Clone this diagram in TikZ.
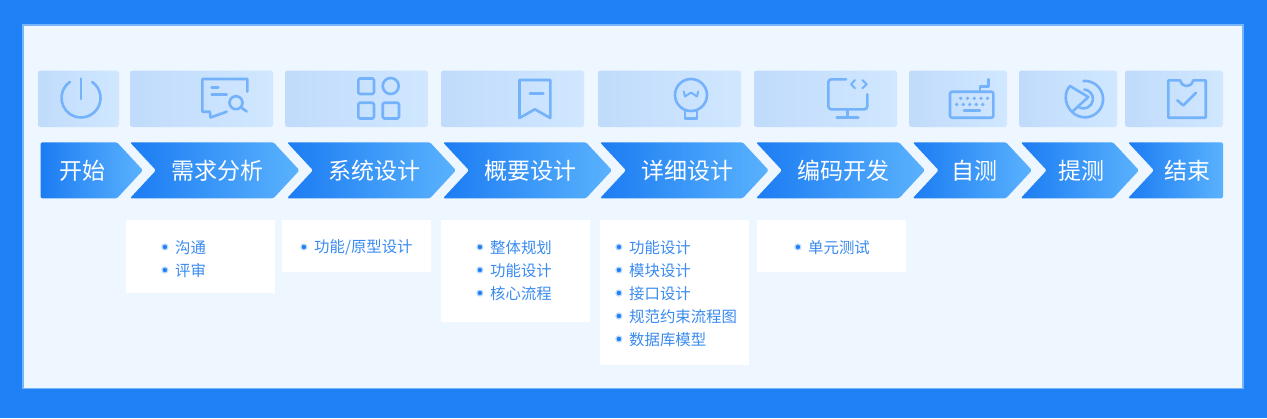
\documentclass[tikz,border=0pt]{standalone}
\usepackage{xcolor}
\usepackage{fontspec}
\setmainfont{Noto Sans CJK SC}
\usetikzlibrary{shapes,positioning}
\definecolor{frameblue}{HTML}{2080F5}
\definecolor{panelblue}{HTML}{EEF6FF}
\definecolor{edgeblue}{HTML}{78B6F9}
\definecolor{tileleft}{HTML}{C0DBFB}
\definecolor{tileright}{HTML}{D0E7FF}
\definecolor{iconblue}{HTML}{74B3FB}
\definecolor{stepleft}{HTML}{1C7CF3}
\definecolor{stepright}{HTML}{5AB2FD}
\definecolor{itemblue}{HTML}{3A8BF0}

\begin{document}
\begin{tikzpicture}[
        x=1pt, y=-1pt,
        tile/.style={rectangle, rounded corners=2.5pt, left color=tileleft, right color=tileright, anchor=north west, inner sep=0pt, outer sep=0pt, minimum height=56.5pt},
        stage/.style={signal, signal to=east, signal from=west, signal pointer angle=94.2, rounded corners=1.5pt, left color=stepleft, right color=stepright, inner sep=0pt, outer sep=0pt, minimum height=56pt},
        stagelabel/.style={text=white, font=\fontsize{23}{25}\selectfont, inner sep=0pt},
        card/.style={rectangle, fill=white, anchor=north west, inner sep=0pt, outer sep=0pt, minimum width=148.5pt},
        bullet/.style={circle, fill=frameblue, draw=frameblue!30, line width=1.2pt, inner sep=0pt, minimum size=6pt, label distance=6.5pt},
        entry/.style={anchor=west, inner sep=0pt, text=itemblue, font=\fontsize{15.4}{17}\selectfont, label={[bullet, yshift=0.5pt]left:{}}},
        icon/.style={draw=iconblue, line width=2.6pt, line cap=round, line join=round},
        dot/.style={fill=iconblue}
    ]
        \useasboundingbox (0,0) rectangle (1267,418);

        % Frame and panel
        \fill[frameblue] (0,0) rectangle (1267,418);
        \node[rectangle, draw=edgeblue, line width=1.5pt, fill=panelblue, anchor=north west, inner sep=0pt, outer sep=0pt, minimum width=1220pt, minimum height=363.5pt] (panel) at (23,24.75) {};

        % Icon tiles
        \node[tile, minimum width=81pt] (tilestart) at (38,70.5) {};
        \node[tile, minimum width=143pt] (tileneed) at (130,70.5) {};
        \node[tile, minimum width=143pt] (tilesystem) at (285,70.5) {};
        \node[tile, minimum width=143pt] (tileoutline) at (441,70.5) {};
        \node[tile, minimum width=143pt] (tiledetail) at (598,70.5) {};
        \node[tile, minimum width=143pt] (tilecode) at (754,70.5) {};
        \node[tile, minimum width=98pt] (tileself) at (909,70.5) {};
        \node[tile, minimum width=98pt] (tilesubmit) at (1019,70.5) {};
        \node[tile, minimum width=98pt] (tileend) at (1125,70.5) {};

        % Power icon
        \draw[icon] (92.2,82) arc[start angle=55, end angle=-235, radius=19.5pt];
        \draw[icon] (81,78.5) -- (81,99);

        % Comment and search icon
        \draw[icon] (247.3,91.7) -- (247.3,79) -- (202.3,79) -- (202.3,111.7) -- (210,111.7) -- (210.5,117.5) -- (226.7,111.7);
        \draw[icon] (211.7,87.7) -- (218.3,87.7);
        \draw[icon] (211.7,94.3) -- (226.7,94.3);
        \draw[icon] (236,102.7) circle[radius=6.5pt];
        \draw[icon] (241,107.3) -- (246.7,111.5);

        % Grid icon
        \draw[icon, rounded corners=1.5pt] (358.3,78.5) rectangle (374,94);
        \draw[icon] (390.7,86) circle[radius=8pt];
        \draw[icon, rounded corners=1.5pt] (358.3,102.7) rectangle (374,118.5);
        \draw[icon, rounded corners=1.5pt] (382.7,102.7) rectangle (399,118.5);

        % Bookmark icon
        \draw[icon] (519.5,80) -- (550.3,80) -- (550.3,118) -- (534.9,109.3) -- (519.5,118) -- cycle;
        \draw[icon] (530,93.3) -- (543.3,93.3);

        % Bulb icon
        \draw[icon] (691,95) circle[radius=16pt];
        \draw[icon] (685,110.5) -- (685,118.5) -- (696.8,118.5) -- (696.8,110.5);
        \draw[icon, line width=2pt] (683.8,91.5) -- (685,96.5) -- (691,92.5) -- (697,96.5) -- (698.2,91.5);

        % Monitor icon
        \draw[icon, rounded corners=3pt] (846,79.3) -- (828.3,79.3) -- (828.3,109.3) -- (867.3,109.3) -- (867.3,94.3);
        \draw[icon] (847.7,109.3) -- (847.7,117.3);
        \draw[icon] (836.7,117.3) -- (858.3,117.3);
        \draw[icon, line width=2pt] (855,80) -- (851,84.3) -- (855,88.3);
        \draw[icon, line width=2pt] (862.3,80) -- (866.7,84.3) -- (862.3,88.3);

        % Keyboard icon
        \draw[icon, rounded corners=2pt] (950,91.7) rectangle (993.3,117.7);
        \draw[icon] (980,91.7) -- (980,86.7) -- (988.3,86.7) -- (988.3,79.3);
        \fill[dot] (960.7,98.3) circle[radius=1.8pt] (967.5,98.3) circle[radius=1.8pt] (974.3,98.3) circle[radius=1.8pt] (981,98.3) circle[radius=1.8pt] (987.5,98.3) circle[radius=1.8pt];
        \fill[dot] (956.7,104.5) circle[radius=1.8pt] (963.2,104.5) circle[radius=1.8pt] (969.7,104.5) circle[radius=1.8pt] (976.2,104.5) circle[radius=1.8pt] (982.7,104.5) circle[radius=1.8pt];
        \draw[icon] (964,110.7) -- (980,110.7);

        % Disk icon
        \draw[icon] (1083.3,81) arc[start angle=95, end angle=-135, radius=18.2pt];
        \draw[icon] (1084.3,89.5) arc[start angle=85, end angle=-115, radius=9.5pt];
        \draw[icon] (1072,112) .. controls (1064,104) and (1064,92) .. (1070,86) -- (1088.3,97) -- (1072,112);

        % Check icon
        \draw[icon] (1180,80.3) .. controls (1182,85) and (1184,86) .. (1186.7,86) .. controls (1189.5,86) and (1191.5,85) .. (1193.3,80.3) -- (1205.7,80.3) -- (1205.7,117.7) -- (1168.3,117.7) -- (1168.3,80.3) -- cycle;
        \draw[icon] (1177.3,100.3) -- (1183.3,105.5) -- (1196,92.7);

        % Stages
        \node[stage, signal from=nowhere, minimum width=102.5pt] (start) at (78.75,170.3) {};
        \node[stage, minimum width=169.5pt] (need) at (214.75,170.3) {};
        \node[stage, minimum width=169pt] (system) at (371.5,170.3) {};
        \node[stage, minimum width=169pt] (outline) at (527.5,170.3) {};
        \node[stage, minimum width=168.7pt] (detail) at (684.35,170.3) {};
        \node[stage, minimum width=169pt] (code) at (840.5,170.3) {};
        \node[stage, minimum width=119.3pt] (self) at (972.35,170.3) {};
        \node[stage, minimum width=118.3pt] (submit) at (1079.85,170.3) {};
        \node[stage, signal to=nowhere, minimum width=95pt] (finish) at (1188.5,170.3) {};

        % Stage labels
        \node[stagelabel] (startlabel) at (82,171) {开始};
        \node[stagelabel] (needlabel) at (217.5,171) {需求分析};
        \node[stagelabel] (systemlabel) at (374.5,171) {系统设计};
        \node[stagelabel] (outlinelabel) at (530.5,171) {概要设计};
        \node[stagelabel] (detaillabel) at (687,171) {详细设计};
        \node[stagelabel] (codelabel) at (843.5,171) {编码开发};
        \node[stagelabel] (selflabel) at (974,171) {自测};
        \node[stagelabel] (submitlabel) at (1081,171) {提测};
        \node[stagelabel] (finishlabel) at (1187,171) {结束};

        % Cards
        \node[card, minimum height=73pt] (needcard) at (126,220) {};
        \node[card, minimum height=52pt] (systemcard) at (282,220) {};
        \node[card, minimum height=102pt] (outlinecard) at (441,220) {};
        \node[card, minimum height=145pt] (detailcard) at (600,220) {};
        \node[card, minimum height=52pt] (codecard) at (757,220) {};

        % Card entries
        \node[entry] (talk) at (175,247.5) {沟通};
        \node[entry] (review) at (175,270.5) {评审};
        \node[entry] (proto) at (314,247.5) {功能/原型设计};
        \node[entry] (plan) at (490,247.5) {整体规划};
        \node[entry] (feature) at (490,270.5) {功能设计};
        \node[entry] (flow) at (490,293.5) {核心流程};
        \node[entry] (function) at (629,247.5) {功能设计};
        \node[entry] (module) at (629,270.5) {模块设计};
        \node[entry] (port) at (629,293.5) {接口设计};
        \node[entry] (rule) at (629,316.5) {规范约束流程图};
        \node[entry] (data) at (629,339.5) {数据库模型};
        \node[entry] (unit) at (808,247.5) {单元测试};
    \end{tikzpicture}
\end{document}
